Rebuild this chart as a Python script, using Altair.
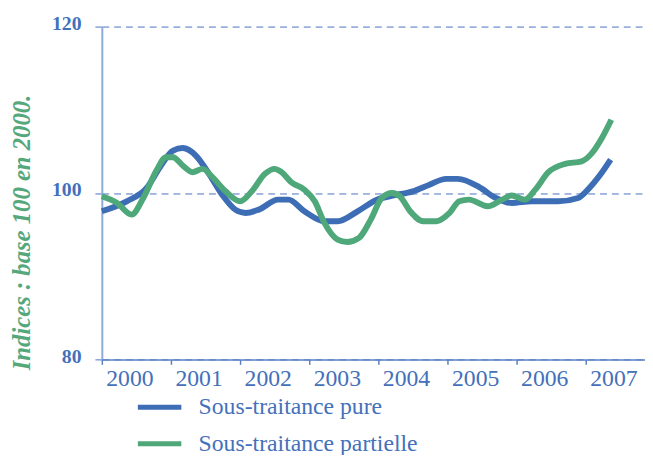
import altair as alt
import pandas as pd

# --- data ---
series_names = ["Sous-traitance pure", "Sous-traitance partielle"]

t_pure = [2000.00, 2000.36, 2000.65, 2000.84, 2001.03, 2001.17, 2001.36, 2001.55,
          2001.74, 2001.93, 2002.08, 2002.27, 2002.55, 2002.70, 2002.93, 2003.22,
          2003.41, 2003.70, 2003.98, 2004.22, 2004.50, 2004.74, 2004.98, 2005.15,
          2005.46, 2005.70, 2005.93, 2006.22, 2006.60, 2006.89, 2007.03, 2007.22,
          2007.36]
v_pure = [97.8, 99.0, 100.6, 103.1, 105.1, 105.4, 104.5, 102.3,
          99.8, 98.0, 97.6, 98.0, 99.2, 99.2, 97.8, 96.6,
          96.6, 97.8, 99.2, 99.7, 100.2, 101.0, 101.7, 101.7,
          100.7, 99.4, 98.8, 99.0, 99.0, 99.4, 100.4, 102.3,
          104.0]

t_part = [2000.00, 2000.22, 2000.43, 2000.60, 2000.79, 2000.93, 2001.03, 2001.17,
          2001.31, 2001.46, 2001.60, 2001.79, 2002.00, 2002.17, 2002.36, 2002.50,
          2002.60, 2002.74, 2002.93, 2003.08, 2003.22, 2003.41, 2003.55, 2003.72,
          2003.89, 2004.05, 2004.20, 2004.31, 2004.46, 2004.65, 2004.84, 2005.03,
          2005.17, 2005.31, 2005.58, 2005.79, 2005.93, 2006.12, 2006.27, 2006.46,
          2006.70, 2006.94, 2007.08, 2007.24, 2007.37]
v_part = [99.6, 98.8, 97.4, 99.4, 102.7, 104.3, 104.3, 103.3,
          102.5, 102.9, 101.9, 100.2, 99.0, 100.2, 102.3, 102.9,
          102.5, 101.3, 100.4, 99.0, 96.4, 94.4, 94.1, 94.6,
          96.8, 99.4, 100.0, 99.6, 97.8, 96.6, 96.6, 97.6,
          99.0, 99.2, 98.4, 99.2, 99.7, 99.2, 100.4, 102.5,
          103.5, 103.8, 104.7, 106.7, 108.8]

year_ticks = [2000, 2001, 2002, 2003, 2004, 2005, 2006, 2007]
y_ticks = [80, 100, 120]

df = pd.concat([
    pd.DataFrame({"t": t_pure, "v": v_pure, "serie": series_names[0]}),
    pd.DataFrame({"t": t_part, "v": v_part, "serie": series_names[1]}),
])

BLUE = "#3d6db5"
GREEN = "#4fa87a"
TXT_BLUE = "#4470ba"
SERIF = "'Times New Roman', 'Liberation Serif', Times, serif"

chart = alt.Chart(df).mark_line(strokeWidth=6, interpolate="monotone").encode(
    x=alt.X("t:Q",
            scale=alt.Scale(domain=[2000, 2007.857], nice=False, zero=False),
            axis=alt.Axis(values=year_ticks, format="d", title=None, grid=False,
                          labelOffset=28, tickSize=5, labelPadding=2,
                          domainColor="#5a80c4", domainWidth=1.5,
                          tickColor="#5a80c4", tickWidth=1.5,
                          labelFont=SERIF, labelFontSize=24, labelColor=TXT_BLUE,
                          labelFlush=False, labelOverlap=False, zindex=1)),
    y=alt.Y("v:Q",
            scale=alt.Scale(domain=[80, 120], nice=False, zero=False),
            axis=alt.Axis(values=y_ticks, grid=True, gridDash=[7, 5],
                          gridColor="#4a72c0", gridWidth=1,
                          tickSize=8, tickColor="#4a72c0", tickDash=[7, 5],
                          domainColor="#8eaadb", domainWidth=2,
                          labelFont=SERIF, labelFontWeight="bold", labelFontSize=20,
                          labelColor=TXT_BLUE, labelPadding=13,
                          labelBaseline="alphabetic", labelOffset=3,
                          title="Indices : base 100 en 2000.",
                          titleFont=SERIF, titleFontStyle="italic",
                          titleFontWeight="bold", titleFontSize=25,
                          titleColor="#55a87c", titleAngle=270,
                          titleX=-81, titleY=208, titleAlign="center",
                          titleBaseline="middle")),
    color=alt.Color("serie:N",
                    scale=alt.Scale(domain=series_names, range=[BLUE, GREEN]),
                    sort=series_names,
                    legend=alt.Legend(title=None, orient="none", legendX=34, legendY=361,
                                      direction="vertical",
                                      symbolType="stroke", symbolSize=1936,
                                      symbolStrokeWidth=5, rowPadding=-10,
                                      labelFont=SERIF, labelFontSize=24,
                                      labelColor=TXT_BLUE, labelOffset=15,
                                      labelLimit=400, padding=0)),
).properties(
    width=550,
    height=337,
    autosize=alt.AutoSizeParams(type="none"),
    padding={"left": 95, "top": 16, "right": 0, "bottom": 94},
    background="white",
).configure_view(stroke=None)

chart.save("out.html", embed_options={"renderer": "svg", "actions": False})
